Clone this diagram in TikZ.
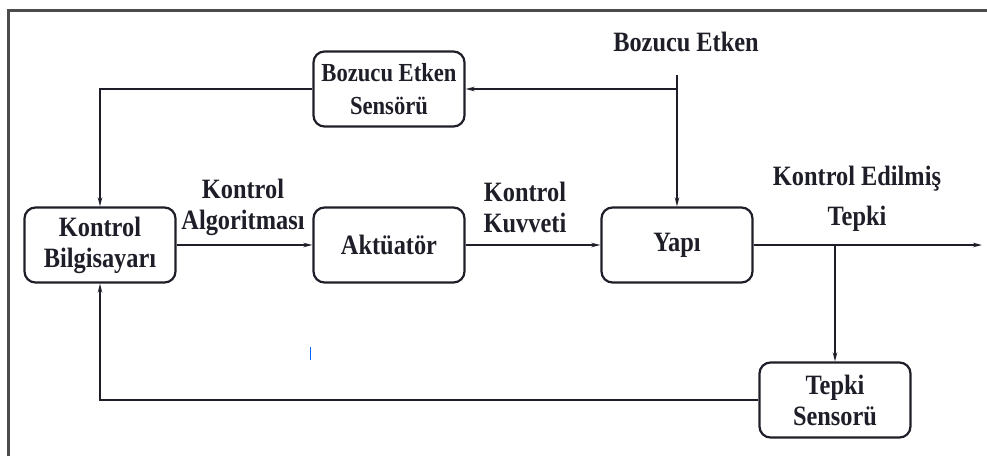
\documentclass[tikz,border=0pt]{standalone}
\usepackage{fontspec}
\setmainfont[FakeStretch=0.87]{Liberation Serif}
\usetikzlibrary{arrows.meta}
\definecolor{ink}{HTML}{1E1E28}
\begin{document}
\begin{tikzpicture}[x=1pt,y=-1pt,
  blk/.style={draw=ink,line width=2.2pt,rounded corners=11pt,minimum width=151pt,minimum height=75pt,
    align=center,font=\bfseries\fontsize{28}{31}\selectfont,text=ink,inner sep=0pt},
  lbl/.style={align=center,font=\bfseries\fontsize{28}{31}\selectfont,text=ink,inner sep=0pt},
  wire/.style={draw=ink,line width=1.6pt},
  arr/.style={wire,-{Stealth[length=9pt,width=4.5pt]}}]
\useasboundingbox (0,0) rectangle (987,456);
% outer frame (top and left edges)
\draw[gray!60!black,line width=3pt] (8,456) -- (8,10) -- (987,10);

% blocks
\node[blk,font=\bfseries\fontsize{26}{33}\selectfont] (bes) at (389,89) {Bozucu Etken\\Sensörü};
\node[blk] (kb) at (100,245) {Kontrol\\Bilgisayarı};
\node[blk] (akt) at (389,245) {Aktüatör};
\node[blk] (yapi) at (677,245) {Yapı};
\node[blk] (ts) at (835,400) {Tepki\\Sensorü};

% labels
\node[lbl] (be) at (686,42) {Bozucu Etken};
\node[lbl] (lalg) at (243,207) {Kontrol\\Algoritması};
\node[lbl] (lkuv) at (525,207) {Kontrol\\Kuvveti};
\node[lbl,font=\bfseries\fontsize{28}{40}\selectfont] (lout) at (857,199) {Kontrol Edilmiş\\Tepki};

% helper points
\coordinate (dtop) at (yapi.north |- 0,75);
\coordinate (dj) at (yapi.north |- bes.east);
\coordinate (oj) at (835,245);
\coordinate (oend) at (982,245);

% disturbance path
\draw[wire] (dtop) -- (dj);
\draw[arr] (dj) -- (yapi.north);
\draw[arr] (dj) -- (bes.east);
\draw[arr] (bes.west) -| (kb.north);

% forward path
\draw[arr] (kb.east) -- (akt.west);
\draw[arr] (akt.east) -- (yapi.west);
\draw[arr] (yapi.east) -- (oend);

% feedback path
\draw[arr] (oj) -- (ts.north);
\draw[arr] (ts.west) -| (kb.south);

% small blue stroke
\draw[blue!60!cyan,line width=0.8pt] (310,347) -- (310,360);
\end{tikzpicture}
\end{document}
